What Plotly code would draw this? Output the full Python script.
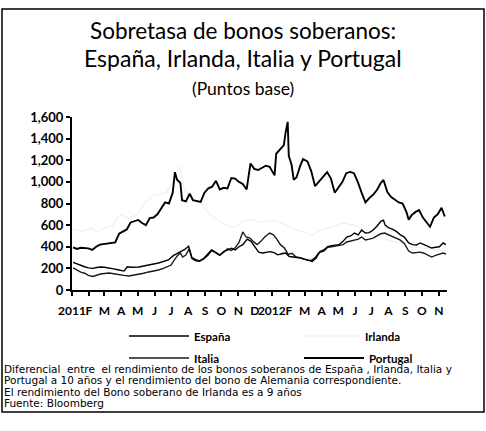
import plotly.graph_objects as go

# ---------------- data (basis points) ----------------
portugal_dates = [
    "2011-01-03", "2011-01-10", "2011-01-17", "2011-01-24", "2011-01-31", "2011-02-07", "2011-02-14",
    "2011-02-21", "2011-02-28", "2011-03-07", "2011-03-14", "2011-03-21", "2011-03-28", "2011-04-04",
    "2011-04-11", "2011-04-18", "2011-04-25", "2011-05-02", "2011-05-09", "2011-05-16", "2011-05-23",
    "2011-05-30", "2011-06-06", "2011-06-13", "2011-06-20", "2011-06-27", "2011-07-04", "2011-07-08",
    "2011-07-12", "2011-07-18", "2011-07-21", "2011-07-28", "2011-08-04", "2011-08-10", "2011-08-17",
    "2011-08-24", "2011-08-31", "2011-09-07", "2011-09-14", "2011-09-21", "2011-09-28", "2011-10-05",
    "2011-10-12", "2011-10-19", "2011-10-26", "2011-11-02", "2011-11-09", "2011-11-16", "2011-11-23",
    "2011-11-30", "2011-12-07", "2011-12-14", "2011-12-21", "2011-12-28", "2012-01-03", "2012-01-06",
    "2012-01-09", "2012-01-16", "2012-01-23", "2012-01-26", "2012-01-30", "2012-02-01", "2012-02-06",
    "2012-02-10", "2012-02-15", "2012-02-22", "2012-02-27", "2012-03-06", "2012-03-13", "2012-03-20",
    "2012-03-27", "2012-04-04", "2012-04-11", "2012-04-18", "2012-04-25", "2012-05-02", "2012-05-09",
    "2012-05-16", "2012-05-23", "2012-05-30", "2012-06-06", "2012-06-13", "2012-06-20", "2012-06-27",
    "2012-07-04", "2012-07-11", "2012-07-18", "2012-07-23", "2012-07-30", "2012-08-06", "2012-08-13",
    "2012-08-20", "2012-08-27", "2012-09-03", "2012-09-07", "2012-09-12", "2012-09-19", "2012-09-26",
    "2012-10-03", "2012-10-10", "2012-10-16", "2012-10-23", "2012-10-30", "2012-11-06", "2012-11-12",
]
portugal_values = [
    395, 380, 390, 385, 385, 370, 400,
    420, 425, 428, 430, 440, 520, 540,
    560, 625, 640, 648, 620, 600, 665,
    670, 700, 760, 810, 800, 900, 1090,
    1020, 990, 830, 820, 890, 830, 820,
    815, 900, 940, 955, 1010, 930, 945,
    940, 1036, 1030, 1000, 980, 930, 1170,
    1120, 1110, 1128, 1150, 1140, 1090, 1060,
    1260, 1300, 1340, 1450, 1555, 1240, 1160,
    1020, 1040, 1150, 1210, 1190, 1100, 960,
    1000, 1050, 1090, 1030, 900, 950, 1000,
    1080, 1092, 1080, 1000, 900, 810, 850,
    880, 925, 990, 1018, 905, 860, 835,
    810, 800, 720, 650, 690, 720, 740,
    670, 620, 585, 670, 700, 760, 680,
]

espana_dates = [
    "2011-01-03", "2011-01-10", "2011-01-17", "2011-01-24", "2011-01-31", "2011-02-08", "2011-02-15",
    "2011-02-22", "2011-03-01", "2011-03-10", "2011-03-18", "2011-03-28", "2011-04-06", "2011-04-12",
    "2011-04-20", "2011-05-03", "2011-05-12", "2011-05-21", "2011-05-30", "2011-06-08", "2011-06-17",
    "2011-06-26", "2011-07-05", "2011-07-12", "2011-07-19", "2011-07-26", "2011-08-02", "2011-08-08",
    "2011-08-15", "2011-08-22", "2011-08-29", "2011-09-06", "2011-09-13", "2011-09-20", "2011-09-28",
    "2011-10-05", "2011-10-12", "2011-10-19", "2011-10-26", "2011-11-02", "2011-11-09", "2011-11-17",
    "2011-11-24", "2011-12-01", "2011-12-08", "2011-12-15", "2011-12-22", "2011-12-29", "2012-01-05",
    "2012-01-12", "2012-01-19", "2012-01-26", "2012-02-02", "2012-02-09", "2012-02-16", "2012-02-23",
    "2012-03-01", "2012-03-08", "2012-03-15", "2012-03-22", "2012-03-29", "2012-04-05", "2012-04-12",
    "2012-04-19", "2012-04-26", "2012-05-03", "2012-05-10", "2012-05-17", "2012-05-24", "2012-05-31",
    "2012-06-07", "2012-06-13", "2012-06-20", "2012-06-27", "2012-07-04", "2012-07-11", "2012-07-18",
    "2012-07-23", "2012-07-26", "2012-08-02", "2012-08-09", "2012-08-16", "2012-08-23", "2012-08-30",
    "2012-09-07", "2012-09-14", "2012-09-21", "2012-09-28", "2012-10-05", "2012-10-12", "2012-10-19",
    "2012-10-26", "2012-11-02", "2012-11-09", "2012-11-14",
]
espana_values = [
    255, 240, 225, 215, 205, 200, 208,
    213, 210, 205, 195, 185, 175, 215,
    210, 213, 220, 231, 240, 250, 265,
    278, 318, 335, 355, 375, 405, 300,
    280, 270, 290, 330, 370, 350, 324,
    355, 370, 385, 370, 400, 420, 470,
    450, 400, 350, 342, 350, 355, 345,
    325, 335, 342, 310, 305, 305, 296,
    285, 278, 265, 295, 355, 370, 400,
    410, 416, 420, 450, 490, 500, 527,
    510, 555, 527, 530, 555, 590, 635,
    645, 600, 574, 560, 540, 509, 490,
    435, 420, 416, 435, 420, 400, 388,
    395, 400, 435, 420,
]

italia_dates = [
    "2011-01-03", "2011-01-10", "2011-01-17", "2011-01-24", "2011-01-31", "2011-02-08", "2011-02-15",
    "2011-02-22", "2011-03-01", "2011-03-10", "2011-03-18", "2011-03-28", "2011-04-06", "2011-04-15",
    "2011-04-25", "2011-05-03", "2011-05-12", "2011-05-21", "2011-05-30", "2011-06-08", "2011-06-17",
    "2011-06-24", "2011-07-01", "2011-07-07", "2011-07-13", "2011-07-18", "2011-07-22", "2011-07-28",
    "2011-08-03", "2011-08-08", "2011-08-15", "2011-08-22", "2011-08-29", "2011-09-06", "2011-09-13",
    "2011-09-20", "2011-09-28", "2011-10-05", "2011-10-12", "2011-10-19", "2011-10-26", "2011-11-02",
    "2011-11-09", "2011-11-15", "2011-11-22", "2011-11-29", "2011-12-05", "2011-12-12", "2011-12-19",
    "2011-12-28", "2012-01-04", "2012-01-10", "2012-01-17", "2012-01-24", "2012-01-31", "2012-02-07",
    "2012-02-14", "2012-02-21", "2012-02-28", "2012-03-06", "2012-03-13", "2012-03-20", "2012-03-27",
    "2012-04-05", "2012-04-12", "2012-04-19", "2012-04-26", "2012-05-03", "2012-05-10", "2012-05-17",
    "2012-05-24", "2012-05-31", "2012-06-07", "2012-06-13", "2012-06-20", "2012-06-27", "2012-07-04",
    "2012-07-11", "2012-07-18", "2012-07-25", "2012-08-01", "2012-08-08", "2012-08-15", "2012-08-22",
    "2012-08-30", "2012-09-07", "2012-09-14", "2012-09-21", "2012-09-28", "2012-10-05", "2012-10-12",
    "2012-10-19", "2012-10-26", "2012-11-02", "2012-11-09", "2012-11-14",
]
italia_values = [
    205, 185, 165, 155, 135, 125, 140,
    148, 152, 157, 150, 140, 135, 130,
    138, 148, 155, 167, 175, 185, 200,
    215, 231, 278, 320, 342, 305, 324,
    380, 290, 270, 265, 285, 320, 365,
    345, 320, 350, 380, 365, 390, 440,
    537, 490, 480, 445, 420, 450, 490,
    527, 510, 470, 417, 388, 330, 340,
    305, 300, 285, 278, 272, 300, 345,
    360, 395, 400, 405, 410, 420, 444,
    455, 463, 470, 490, 463, 470, 480,
    500, 520, 527, 510, 490, 475, 463,
    430, 360, 342, 345, 350, 340, 320,
    305, 320, 333, 342, 333,
]

irlanda_dates = [
    "2011-01-03", "2011-01-17", "2011-02-01", "2011-02-08", "2011-02-15", "2011-03-01", "2011-03-15",
    "2011-03-30", "2011-04-15", "2011-05-01", "2011-05-14", "2011-06-01", "2011-06-08", "2011-06-22",
    "2011-07-05", "2011-07-15", "2011-07-25", "2011-08-10", "2011-08-25", "2011-09-10", "2011-09-25",
    "2011-10-10", "2011-10-25", "2011-11-10", "2011-11-25", "2011-12-10", "2011-12-25", "2012-01-10",
    "2012-01-25", "2012-02-10", "2012-02-25", "2012-03-15", "2012-04-01", "2012-04-20", "2012-05-10",
    "2012-05-30", "2012-06-20", "2012-07-10", "2012-07-30", "2012-08-20", "2012-09-10", "2012-09-30",
    "2012-10-20", "2012-11-14",
]
irlanda_values = [
    560, 545, 560, 565, 537, 574, 593,
    694, 660, 700, 806, 880, 880, 900,
    1000, 1148, 940, 820, 800, 700, 640,
    600, 574, 639, 650, 620, 640, 639,
    600, 560, 540, 509, 560, 580, 620,
    600, 560, 500, 460, 440, 400, 390,
    380, 360,
]

tick_dates = [
    "2011-01-01", "2011-02-01", "2011-03-01", "2011-04-01", "2011-05-01", "2011-06-01", "2011-07-01",
    "2011-08-01", "2011-09-01", "2011-10-01", "2011-11-01", "2011-12-01", "2012-01-01", "2012-02-01",
    "2012-03-01", "2012-04-01", "2012-05-01", "2012-06-01", "2012-07-01", "2012-08-01", "2012-09-01",
    "2012-10-01", "2012-11-01",
]
tick_labels = ["2011", "F", "M", "A", "M", "J", "J", "A", "S", "O", "N", "D",
               "2012", "F", "M", "A", "M", "J", "J", "A", "S", "O", "N"]

title_lines = ["Sobretasa de bonos soberanos:", "España, Irlanda, Italia y Portugal", "(Puntos base)"]
note_lines = [
    "Diferencial  entre  el rendimiento de los bonos soberanos de España , Irlanda, Italia y",
    "Portugal a 10 años y el rendimiento del bono de Alemania correspondiente.",
    "El rendimiento del Bono soberano de Irlanda es a 9 años",
    "Fuente: Bloomberg",
]

# ---------------- figure ----------------
W, H = 486, 431
L, R, T, B = 72, 39, 117, 141
PW, PH = W - L - R, H - T - B


def px(x):
    return (x - L) / PW


def py(y):
    return (H - B - y) / PH


FONT = "Lato"

fig = go.Figure()
fig.add_trace(go.Scatter(x=irlanda_dates, y=irlanda_values, name="Irlanda", mode="lines",
                         line=dict(color="#f0f0f0", width=1.2), legend="legend2"))
fig.add_trace(go.Scatter(x=italia_dates, y=italia_values, name="Italia", mode="lines",
                         line=dict(color="#1a1a1a", width=1.4), legend="legend3"))
fig.add_trace(go.Scatter(x=espana_dates, y=espana_values, name="España", mode="lines",
                         line=dict(color="#000000", width=1.4), legend="legend"))
fig.add_trace(go.Scatter(x=portugal_dates, y=portugal_values, name="Portugal", mode="lines",
                         line=dict(color="#000000", width=1.9), legend="legend4"))

leg_common = dict(bgcolor="rgba(0,0,0,0)", borderwidth=0, itemwidth=60,
                  font=dict(family=FONT, size=11.5, color="#000", weight="bold"),
                  xanchor="left", yanchor="middle")

annotations = []
for txt, cy, sz in zip(title_lines, [31, 58, 88], [22.5, 23, 17.5]):
    annotations.append(dict(text=txt, x=px(243), y=py(cy), xref="paper", yref="paper",
                            showarrow=False, xanchor="center", yanchor="middle",
                            font=dict(family=FONT, size=sz, color="#000")))
for txt, cy in zip(note_lines, [368.5, 380, 391.5, 403]):
    annotations.append(dict(text=txt, x=px(2), y=py(cy), xref="paper", yref="paper",
                            showarrow=False, xanchor="left", yanchor="middle",
                            font=dict(family="DejaVu Sans", size=10.5, color="#000")))

fig.update_layout(
    width=W, height=H,
    margin=dict(l=L, r=R, t=T, b=B),
    paper_bgcolor="white", plot_bgcolor="white",
    showlegend=True,
    legend=dict(x=px(124), y=py(336), **leg_common),
    legend2=dict(x=px(295), y=py(336), **leg_common),
    legend3=dict(x=px(124), y=py(358), **leg_common),
    legend4=dict(x=px(299), y=py(358), **leg_common),
    annotations=annotations,
    shapes=[dict(type="rect", xref="paper", yref="paper", x0=px(2), x1=px(484), y0=py(412), y1=py(9),
                 line=dict(color="#000", width=1.5), layer="above")],
    xaxis=dict(type="date", range=["2011-01-01", "2012-11-16"], showgrid=False, zeroline=False,
               showline=True, linecolor="#000", linewidth=2, ticks="outside", ticklen=4,
               tickcolor="#000", tickwidth=1.5, tickvals=tick_dates, ticktext=tick_labels,
               tickangle=0, ticklabelstandoff=5,
               tickfont=dict(family=FONT, size=12, color="#000", weight="bold")),
    yaxis=dict(range=[0, 1600], tickvals=[0, 200, 400, 600, 800, 1000, 1200, 1400, 1600],
               tickformat=",d", showgrid=False, zeroline=False, showline=True, linecolor="#000",
               linewidth=2, ticks="outside", ticklen=4, tickcolor="#000", tickwidth=1.5,
               tickfont=dict(family=FONT, size=13, color="#000", weight="bold")),
)

# remove the browser's default 8px body margin so the figure starts at the page corner
fig.write_html("out.html", config={"displayModeBar": False},
               post_script="document.body.style.margin='0';")
